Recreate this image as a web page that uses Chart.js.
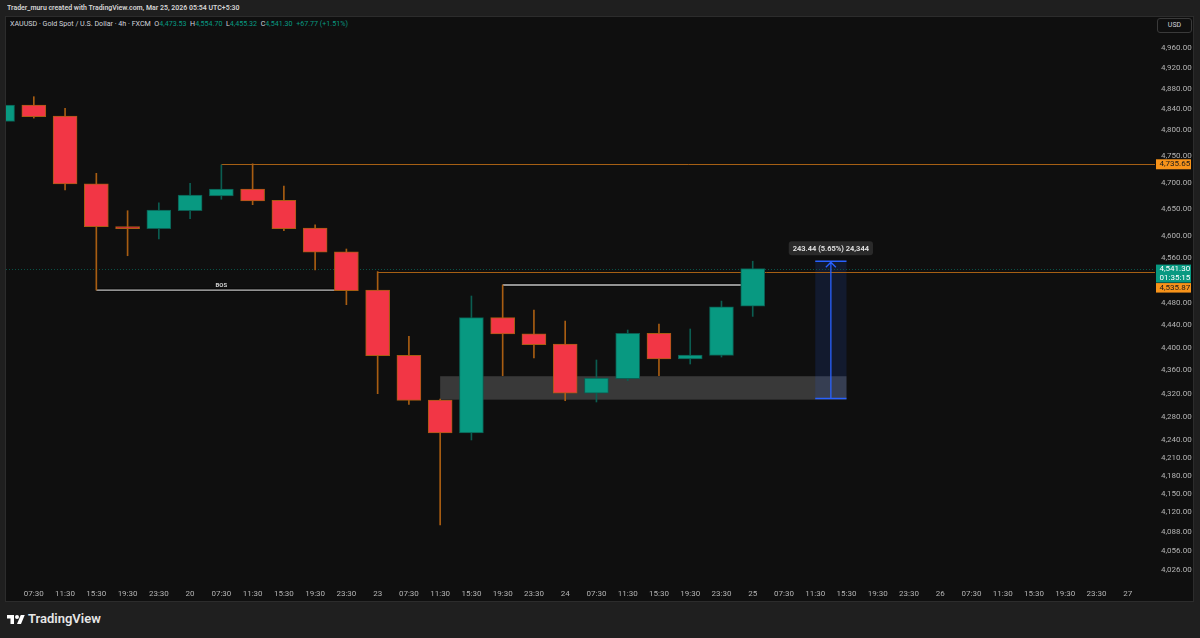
<!DOCTYPE html>
<html>
<head>
<meta charset="utf-8">
<script src="https://cdn.jsdelivr.net/npm/chart.js@4.4.1/dist/chart.umd.min.js"></script>
<style>
  html, body { margin:0; padding:0; background:#1f1f1f; width:1200px; height:638px; overflow:hidden; font-family: Roboto, "Noto Sans", sans-serif; }
  #panel { position:absolute; left:5px; top:16px; width:1187px; height:584px; background:#0f0f0f; border:1px solid #2c2c2c; }
  #hdr { position:absolute; left:7px; top:3px; font-size:8px; font-weight:600; color:#d6d6d6; white-space:nowrap; transform:scaleX(0.87); transform-origin:0 0; }
  #legend { position:absolute; left:10px; top:19px; font-size:8px; color:#d1d4dc; white-space:nowrap; transform:scaleX(0.89); transform-origin:0 0; }
  #legend .v { color:#089981; }
  #usd { position:absolute; left:1157px; top:18px; width:33px; height:13px; border:1px solid #3a3a3a; border-radius:3px; color:#d1d4dc; font-size:7px; line-height:13px; text-align:center; }
  #logo { position:absolute; left:7px; top:613px; }
  #tvtext { position:absolute; left:28px; top:611px; font-size:13px; font-weight:600; color:#e6e6e6; white-space:nowrap; }
  canvas { position:absolute; left:0; top:0; }
</style>
</head>
<body>
<div id="panel"></div>
<div id="hdr">Trader_muru created with TradingView.com, Mar 25, 2026 05:54 UTC+5:30</div>
<div id="legend">XAUUSD · Gold Spot / U.S. Dollar · 4h · FXCM&nbsp; O<span class="v">4,473.53</span>&nbsp; H<span class="v">4,554.70</span>&nbsp; L<span class="v">4,455.32</span>&nbsp; C<span class="v">4,541.30</span>&nbsp; <span class="v">+67.77 (+1.51%)</span></div>
<div id="usd">USD</div>
<svg id="logo" width="18" height="14" viewBox="0 0 36 28"><path fill="#ffffff" d="M14 22H7V11H0V4h14v18zM28 22h-8l7.5-18h8L28 22z"/><circle fill="#ffffff" cx="20" cy="8" r="4"/></svg>
<div id="tvtext">TradingView</div>
<canvas id="c" width="1200" height="638"></canvas>
<script>
// ---- data ----
const timeLabels = ['19','07:30','11:30','15:30','19:30','23:30','20','07:30','11:30','15:30','19:30','23:30','23','07:30','11:30','15:30','19:30','23:30','24','07:30','11:30','15:30','19:30','23:30','25','07:30','11:30','15:30','19:30','23:30','26','07:30','11:30','15:30','19:30','23:30','27','07:30'];
const opens  = [4816.7,4848.2,4826.9,4698.0,4618.0,4614.3,4647.6,4675.0,4688.1,4667.0,4615.6,4572.0,4502.5,4386.5,4308.8,4252.3,4453.0,4424.5,4406.3,4320.4,4345.7,4425.3,4380.0,4386.5,4473.53];
const highs  = [4855.0,4864.4,4841.8,4717.6,4647.6,4662.5,4698.8,4733.5,4735.65,4693.8,4621.6,4577.0,4535.87,4419.9,4310.5,4491.8,4511.6,4466.7,4447.0,4378.3,4431.1,4441.7,4432.9,4482.7,4554.70];
const lows   = [4812.0,4823.0,4686.2,4502.5,4564.7,4595.3,4632.8,4668.9,4658.8,4610.6,4538.7,4476.2,4319.7,4301.4,4098.8,4240.5,4350.9,4381.8,4307.6,4305.4,4342.2,4350.9,4371.3,4383.5,4455.32];
const closes = [4848.2,4825.6,4697.5,4618.0,4614.3,4648.9,4676.8,4688.1,4665.7,4614.3,4571.0,4501.3,4385.8,4308.3,4252.3,4453.0,4424.0,4405.1,4320.4,4346.9,4425.3,4380.0,4387.1,4472.5,4541.30];
const priceTicks = [4960,4920,4880,4840,4800,4750,4700,4650,4600,4560,4480,4440,4400,4360,4320,4280,4240,4210,4180,4150,4120,4088,4056,4026];
const levelPrices = [4735.65, 4535.87];
const levelStarts = [7, 12];
const structPrices = [4502.5, 4511.6];
const structFrom = [3, 16];
const structTo = [11, 24];
const structLabels = ['BOS', ''];
const zoneRange = [14, 27];
const zonePrices = [4350.0, 4309.4];
const measureRange = [26, 27];
const measurePrices = [4311.26, 4554.70];
const lastPrice = 4541.30;
const countdown = '01:35:15';

// ---- styles ----
const UP = '#089981', DOWN = '#f23645';
const UP_WICK = '#0b5d51', DOWN_WICK = '#a85d12';
const ORANGE_LINE = '#a65f14', ORANGE_BOX = '#f7931a';
const AXIS_TXT = '#b4b4b4';
const fmt = v => v.toLocaleString('en-US', {minimumFractionDigits:2, maximumFractionDigits:2});

const isUp = opens.map((o,i) => closes[i] >= o);

const drawings = {
  id: 'drawings',
  beforeDatasetsDraw(chart) {
    const {ctx, chartArea: a, scales: {x, y}} = chart;
    ctx.save();
    ctx.beginPath(); ctx.rect(a.left, a.top, a.right - a.left, a.bottom - a.top); ctx.clip();
    const py = v => Math.round(y.getPixelForValue(v)) + 0.5;
    // zone
    const zx1 = x.getPixelForValue(zoneRange[0]), zx2 = x.getPixelForValue(zoneRange[1]);
    const zy1 = y.getPixelForValue(zonePrices[0]), zy2 = y.getPixelForValue(zonePrices[1]);
    ctx.fillStyle = '#393939';
    ctx.fillRect(zx1, zy1, zx2 - zx1, zy2 - zy1);
    // measure box
    const mx1 = x.getPixelForValue(measureRange[0]), mx2 = x.getPixelForValue(measureRange[1]);
    const myLo = y.getPixelForValue(measurePrices[0]), myHi = y.getPixelForValue(measurePrices[1]);
    ctx.fillStyle = 'rgba(41,98,255,0.13)';
    ctx.fillRect(mx1, myHi, mx2 - mx1, myLo - myHi);
    // current price dotted line
    ctx.strokeStyle = '#0a5247'; ctx.lineWidth = 1; ctx.setLineDash([1,2]);
    ctx.beginPath(); ctx.moveTo(a.left, py(lastPrice)); ctx.lineTo(a.right, py(lastPrice)); ctx.stroke();
    ctx.setLineDash([]);
    // horizontal levels
    ctx.strokeStyle = ORANGE_LINE; ctx.lineWidth = 1;
    levelPrices.forEach((p, i) => {
      ctx.beginPath(); ctx.moveTo(x.getPixelForValue(levelStarts[i]), py(p)); ctx.lineTo(a.right, py(p)); ctx.stroke();
    });
    // structure lines
    structPrices.forEach((p, i) => {
      const x1 = x.getPixelForValue(structFrom[i]), x2 = x.getPixelForValue(structTo[i]);
      const yy = y.getPixelForValue(p);
      ctx.strokeStyle = 'rgba(0,0,0,0.8)'; ctx.lineWidth = 3;
      ctx.beginPath(); ctx.moveTo(x1, yy); ctx.lineTo(x2, yy); ctx.stroke();
      ctx.strokeStyle = '#c4c4c4'; ctx.lineWidth = 1.3;
      ctx.beginPath(); ctx.moveTo(x1, yy); ctx.lineTo(x2, yy); ctx.stroke();
      if (structLabels[i]) {
        ctx.fillStyle = '#d0d0d0'; ctx.font = 'bold 6px Roboto'; ctx.textAlign = 'center'; ctx.textBaseline = 'bottom';
        ctx.fillText(structLabels[i], (x1 + x2) / 2, yy - 1.5);
      }
    });
    // measure lines + arrow
    const mc = (mx1 + mx2) / 2;
    ctx.strokeStyle = '#2962ff'; ctx.lineWidth = 1.5;
    ctx.beginPath();
    ctx.moveTo(mx1, myHi); ctx.lineTo(mx2, myHi);
    ctx.moveTo(mx1, myLo); ctx.lineTo(mx2, myLo);
    ctx.stroke();
    ctx.lineWidth = 1.3;
    ctx.beginPath();
    ctx.moveTo(mc, myLo); ctx.lineTo(mc, myHi);
    ctx.moveTo(mc - 5, myHi + 6); ctx.lineTo(mc, myHi + 1); ctx.lineTo(mc + 5, myHi + 6);
    ctx.stroke();
    ctx.restore();

    // measure label
    ctx.save();
    const diff = measurePrices[1] - measurePrices[0];
    const txt = diff.toFixed(2) + ' (' + (diff / measurePrices[0] * 100).toFixed(2) + '%) ' + Math.round(diff * 100).toLocaleString('en-US');
    ctx.font = '600 7.5px Roboto';
    const tw = ctx.measureText(txt).width;
    const bw = tw + 8, bh = 14;
    const bx = mc - bw / 2, by = myHi - 6 - bh;
    ctx.fillStyle = '#2a2a2a';
    ctx.beginPath(); ctx.roundRect(bx, by, bw, bh, 3); ctx.fill();
    ctx.fillStyle = '#e8e8e8'; ctx.textAlign = 'center'; ctx.textBaseline = 'middle';
    ctx.fillText(txt, mc, by + bh / 2 + 0.5);
    ctx.restore();
  },
  afterDraw(chart) {
    const {ctx, chartArea: a, scales: {y}} = chart;
    ctx.save();
    ctx.font = '8px Roboto'; ctx.textBaseline = 'middle'; ctx.textAlign = 'left';
    const bx = a.right + 1, bw = 35;
    let ly = y.getPixelForValue(levelPrices[0]);
    ctx.fillStyle = ORANGE_BOX; ctx.fillRect(bx, ly - 4.5, bw, 10);
    ctx.fillStyle = '#1a1a1a'; ctx.fillText(fmt(levelPrices[0]), bx + 3.5, ly + 0.5);
    const cy = y.getPixelForValue(lastPrice);
    ctx.fillStyle = UP; ctx.fillRect(bx, cy - 4, bw, 18);
    ctx.fillStyle = '#ffffff';
    ctx.fillText(fmt(lastPrice), bx + 3.5, cy + 0.8);
    ctx.fillText(countdown, bx + 3.5, cy + 9);
    ctx.fillStyle = ORANGE_BOX; ctx.fillRect(bx, cy + 14.5, bw, 9.5);
    ctx.fillStyle = '#1a1a1a'; ctx.fillText(fmt(levelPrices[1]), bx + 3.5, cy + 19.5);
    ctx.restore();
  }
};

new Chart(document.getElementById('c'), {
  type: 'bar',
  data: {
    datasets: [
      {
        label: 'body', order: 0, grouped: false, barThickness: 24,
        data: opens.map((o, i) => ({x: i, y: [o, closes[i]]})),
        backgroundColor: isUp.map(u => u ? UP : DOWN),
        borderColor: isUp.map(u => u ? UP_WICK : DOWN_WICK),
        borderWidth: 1, borderSkipped: false
      },
      {
        label: 'wick', order: 1, grouped: false, barThickness: 1,
        data: lows.map((l, i) => ({x: i, y: [l, highs[i]]})),
        backgroundColor: isUp.map(u => u ? UP_WICK : DOWN_WICK),
        borderWidth: 0
      }
    ]
  },
  options: {
    responsive: false, animation: false, devicePixelRatio: 1,
    layout: { padding: { left: 6, top: 17, right: 6, bottom: 37 } },
    plugins: { legend: { display: false }, tooltip: { enabled: false } },
    scales: {
      x: {
        type: 'linear', min: 0.11, max: 36.87, offset: false,
        grid: { display: false, drawTicks: false, tickLength: 0 },
        border: { display: false },
        ticks: { color: AXIS_TXT, font: { family: 'Roboto', size: 8 }, padding: 5, maxRotation: 0, autoSkip: false,
                 callback: v => timeLabels[v] !== undefined ? timeLabels[v] : '' },
        afterBuildTicks: s => { s.ticks = timeLabels.map((t, i) => ({value: i})).filter(t => t.value >= 1 && t.value <= 36); },
        afterFit: s => { s.height = 17; }
      },
      y: {
        type: 'logarithmic', position: 'right', min: 4003.2, max: 5021.9,
        grid: { display: false, drawTicks: false, tickLength: 0 },
        border: { display: false },
        ticks: { color: AXIS_TXT, font: { family: 'Roboto', size: 8 }, padding: 6, crossAlign: 'near',
                 callback: v => fmt(v) },
        afterBuildTicks: s => { s.ticks = priceTicks.map(v => ({value: v})); },
        afterFit: s => { s.width = 39; }
      }
    }
  },
  plugins: [drawings]
});
</script>
</body>
</html>
